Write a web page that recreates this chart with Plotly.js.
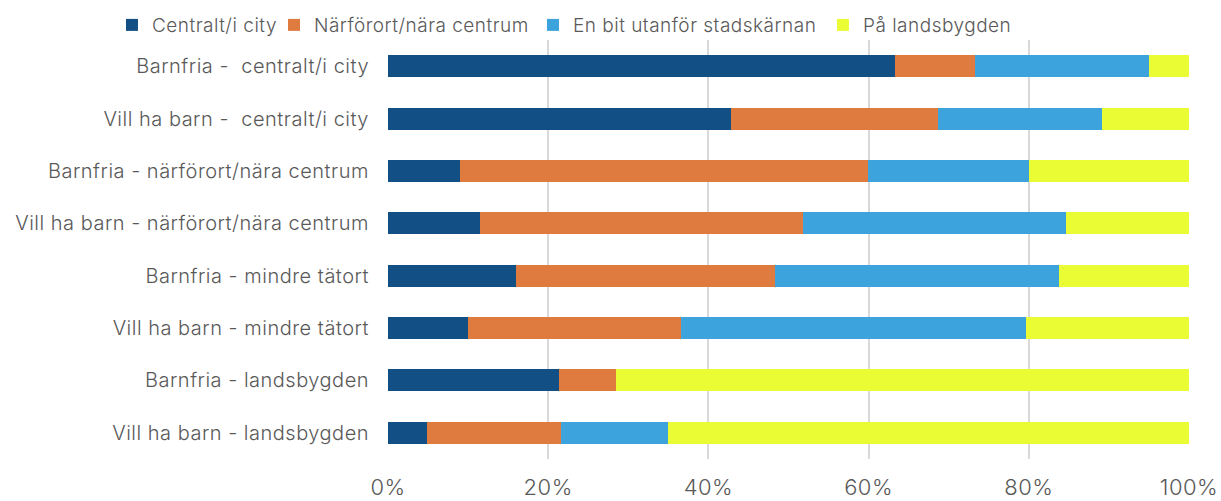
<!DOCTYPE html>
<html>
<head>
<meta charset="utf-8">
<script src="https://cdn.plot.ly/plotly-3.0.1.min.js"></script>
<style>
  html, body { margin: 0; padding: 0; background: #fff; }
  #chart { width: 1221px; height: 501px; }
  text { letter-spacing: 0.5px; }
</style>
</head>
<body>
<div id="chart"></div>
<script>
// row labels, top to bottom
const categories = [
  "Barnfria -  centralt/i city",
  "Vill ha barn -  centralt/i city",
  "Barnfria - närförort/nära centrum",
  "Vill ha barn - närförort/nära centrum",
  "Barnfria - mindre tätort",
  "Vill ha barn - mindre tätort",
  "Barnfria - landsbygden",
  "Vill ha barn - landsbygden"
];

// shares (fractions of 1)
const centralt = [0.633, 0.428, 0.090, 0.115, 0.160, 0.100, 0.213, 0.049];
const narforort = [0.100, 0.259, 0.509, 0.403, 0.323, 0.266, 0.072, 0.167];
const utanfor = [0.217, 0.204, 0.201, 0.328, 0.355, 0.431, 0.000, 0.134];
const landsbygd = [0.050, 0.109, 0.200, 0.154, 0.162, 0.203, 0.715, 0.650];

const seriesNames = ["Centralt/i city", "Närförort/nära centrum", "En bit utanför stadskärnan", "På landsbygden"];
const seriesValues = [centralt, narforort, utanfor, landsbygd];
const seriesColors = ["#124f84", "#df7b3e", "#3ca3dc", "#eafd34"];

const xTicks = [0, 0.2, 0.4, 0.6, 0.8, 1];
const xTickText = ["0%", "20%", "40%", "60%", "80%", "100%"];

// one legend per series so the row sits on one line like the original
const legendIds = ["legend", "legend2", "legend3", "legend4"];
const legendX = [0.0917, 0.2244, 0.4365, 0.674];

const traces = seriesNames.map((name, i) => ({
  type: "bar",
  orientation: "h",
  name: name,
  legend: legendIds[i],
  y: categories,
  x: seriesValues[i],
  marker: { color: seriesColors[i], line: { width: 0 } },
  hoverinfo: "name+x"
}));

const font = "Inter, 'Open Sans', sans-serif";
const grey = "#595959";

const layout = {
  width: 1221,
  height: 501,
  margin: { l: 388, r: 32, t: 40, b: 42, autoexpand: false },
  paper_bgcolor: "#fff",
  plot_bgcolor: "#fff",
  barmode: "stack",
  bargap: 0.58,
  font: { family: font, color: grey, size: 19, weight: 300 },
  showlegend: true,
  xaxis: {
    range: [0, 1],
    tickvals: xTicks,
    ticktext: xTickText,
    showgrid: true,
    gridcolor: "#d9d9d9",
    gridwidth: 2,
    zeroline: false,
    ticks: "",
    ticklabelstandoff: 13,
    tickfont: { family: font, size: 22, color: grey, weight: 300 },
    fixedrange: true
  },
  yaxis: {
    autorange: "reversed",
    type: "category",
    ticks: "",
    ticklabelstandoff: 18,
    tickfont: { family: font, size: 20, color: grey, weight: 300 },
    showgrid: false,
    zeroline: false,
    fixedrange: true
  }
};

legendIds.forEach((id, i) => {
  layout[id] = {
    orientation: "h",
    xref: "container",
    yref: "container",
    x: legendX[i],
    xanchor: "left",
    y: 0.95,
    yanchor: "middle",
    bgcolor: "rgba(0,0,0,0)",
    font: { family: font, size: 19, color: grey, weight: 300 },
    itemwidth: 30
  };
});

Plotly.newPlot("chart", traces, layout, { displayModeBar: false, staticPlot: true });
</script>
</body>
</html>
